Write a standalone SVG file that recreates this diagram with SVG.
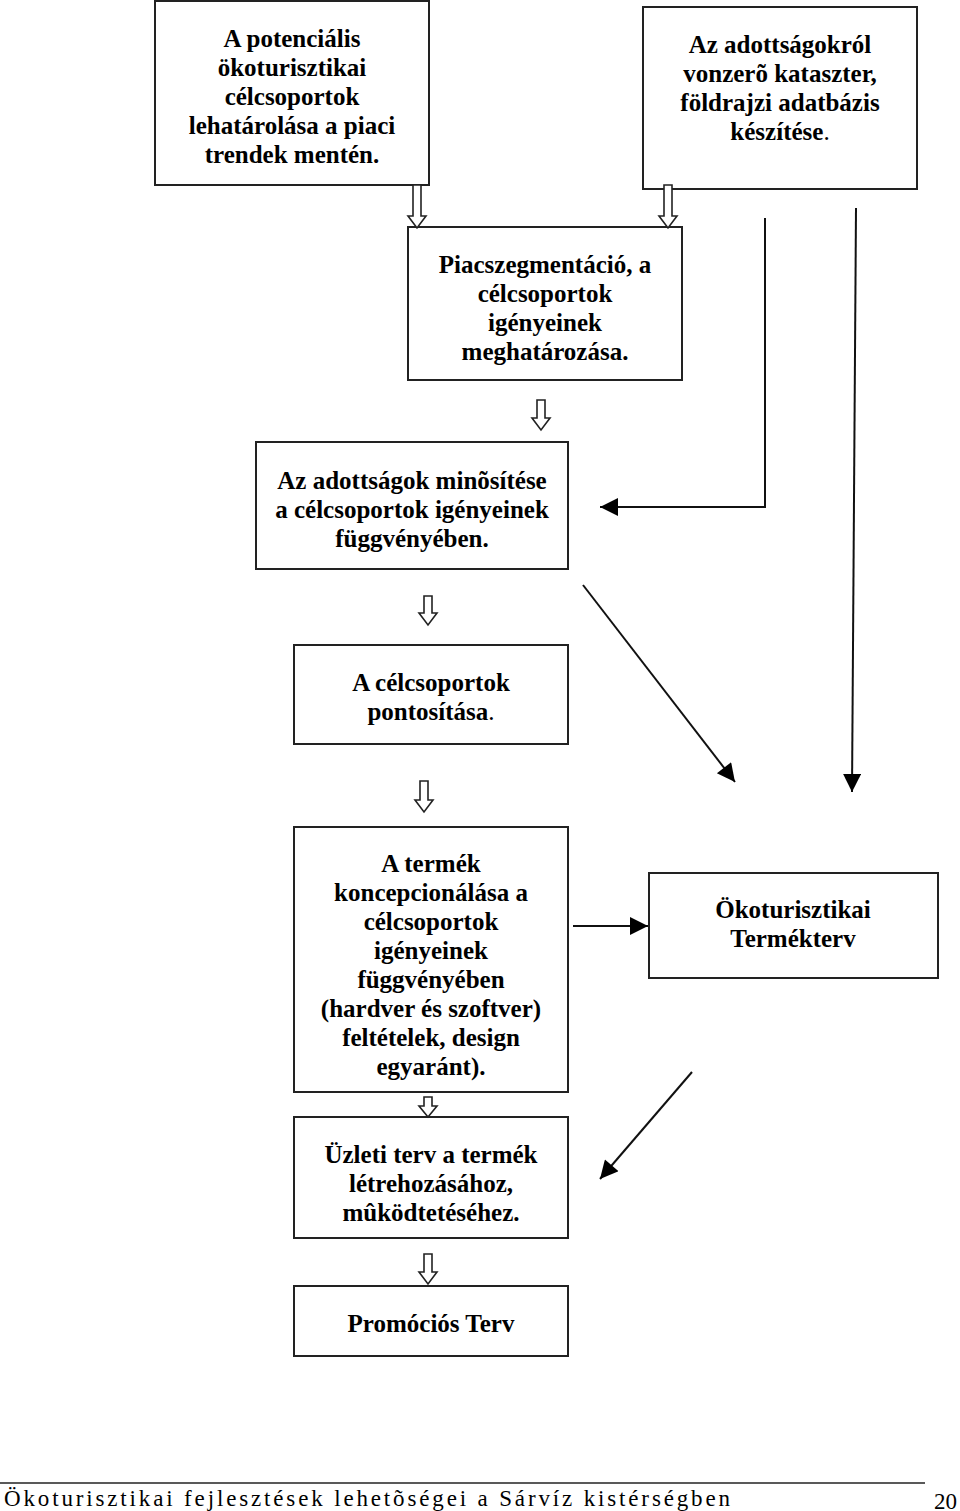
<svg xmlns="http://www.w3.org/2000/svg" width="960" height="1511" viewBox="0 0 960 1511">
<style>
.box{fill:#fff;stroke:#222;stroke-width:2}
.t{font-family:"Liberation Serif","Times New Roman",serif;font-weight:bold;font-size:25px;text-anchor:middle;fill:#000}
.n{font-weight:normal}
.ha{fill:#fff;stroke:#222;stroke-width:1.6;stroke-linejoin:miter}
.ln{stroke:#111;stroke-width:2;fill:none}
.foot{font-family:"Liberation Serif","Times New Roman",serif;font-size:23px;fill:#000}
</style>
<defs>
<marker id="ahb" viewBox="0 0 10 10" refX="10" refY="5" markerWidth="20" markerHeight="18" markerUnits="userSpaceOnUse" orient="auto">
<path d="M0,0 L10,5 L0,10 Z" fill="#000"/>
</marker>
</defs>
<rect width="960" height="1511" fill="#fff"/>

<g id="n1">
<rect class="box" x="155" y="1" width="274" height="184"/>
<text class="t" x="292" y="47">A potenciális</text>
<text class="t" x="292" y="76">ökoturisztikai</text>
<text class="t" x="292" y="105">célcsoportok</text>
<text class="t" x="292" y="134">lehatárolása a piaci</text>
<text class="t" x="292" y="163">trendek mentén.</text>
</g>
<g id="n2">
<rect class="box" x="643" y="7" width="274" height="182"/>
<text class="t" x="780" y="53">Az adottságokról</text>
<text class="t" x="780" y="82">vonzerõ kataszter,</text>
<text class="t" x="780" y="111">földrajzi adatbázis</text>
<text class="t" x="780" y="140">készítése<tspan class="n">.</tspan></text>
</g>
<g id="n3">
<rect class="box" x="408" y="227" width="274" height="153"/>
<text class="t" x="545" y="273">Piacszegmentáció, a</text>
<text class="t" x="545" y="302">célcsoportok</text>
<text class="t" x="545" y="331">igényeinek</text>
<text class="t" x="545" y="360">meghatározása.</text>
</g>
<g id="n4">
<rect class="box" x="256" y="442" width="312" height="127"/>
<text class="t" x="412" y="489">Az adottságok minõsítése</text>
<text class="t" x="412" y="518">a célcsoportok igényeinek</text>
<text class="t" x="412" y="547">függvényében.</text>
</g>
<g id="n5">
<rect class="box" x="294" y="645" width="274" height="99"/>
<text class="t" x="431" y="691">A célcsoportok</text>
<text class="t" x="431" y="720">pontosítása<tspan class="n">.</tspan></text>
</g>
<g id="n6">
<rect class="box" x="294" y="827" width="274" height="265"/>
<text class="t" x="431" y="872">A termék</text>
<text class="t" x="431" y="901">koncepcionálása a</text>
<text class="t" x="431" y="930">célcsoportok</text>
<text class="t" x="431" y="959">igényeinek</text>
<text class="t" x="431" y="988">függvényében</text>
<text class="t" x="431" y="1017">(hardver és szoftver)</text>
<text class="t" x="431" y="1046">feltételek, design</text>
<text class="t" x="431" y="1075">egyaránt).</text>
</g>
<g id="n7">
<rect class="box" x="649" y="873" width="289" height="105"/>
<text class="t" x="793" y="918">Ökoturisztikai</text>
<text class="t" x="793" y="947">Termékterv</text>
</g>
<g id="n8">
<rect class="box" x="294" y="1117" width="274" height="121"/>
<text class="t" x="431" y="1163">Üzleti terv a termék</text>
<text class="t" x="431" y="1192">létrehozásához,</text>
<text class="t" x="431" y="1221">mûködtetéséhez.</text>
</g>
<g id="n9">
<rect class="box" x="294" y="1286" width="274" height="70"/>
<text class="t" x="431" y="1332">Promóciós Terv</text>
</g>

<g id="connectors">
<polygon class="ha" points="413,185 421,185 421,216 426,216 417,228 408,216 413,216"/>
<polygon class="ha" points="664,185 672,185 672,216 677,216 668,228 659,216 664,216"/>
<polygon class="ha" points="537,400 545,400 545,418 550,418 541,430 532,418 537,418"/>
<polygon class="ha" points="424,596 432,596 432,613 437,613 428,625 419,613 424,613"/>
<polygon class="ha" points="420,781 428,781 428,800 433,800 424,812 415,800 420,800"/>
<polygon class="ha" points="424,1097 432,1097 432,1106 437,1106 428,1117 419,1106 424,1106"/>
<polygon class="ha" points="424,1254 432,1254 432,1272 437,1272 428,1284 419,1272 424,1272"/>
<polyline class="ln" points="765,218 765,507 600,507" marker-end="url(#ahb)"/>
<line class="ln" x1="583" y1="585" x2="735" y2="782" marker-end="url(#ahb)"/>
<line class="ln" x1="856" y1="208" x2="852" y2="792" marker-end="url(#ahb)"/>
<line class="ln" x1="573" y1="926" x2="648" y2="926" marker-end="url(#ahb)"/>
<line class="ln" x1="692" y1="1072" x2="600" y2="1179" marker-end="url(#ahb)"/>
</g>

<g id="footer">
<line x1="0" y1="1483" x2="925" y2="1483" stroke="#222" stroke-width="1.5"/>
<text class="foot" x="4" y="1506" textLength="726" lengthAdjust="spacing">Ökoturisztikai fejlesztések lehetõségei a Sárvíz kistérségben</text>
<text class="foot" x="934" y="1509" font-size="25">20</text>
</g>
</svg>
